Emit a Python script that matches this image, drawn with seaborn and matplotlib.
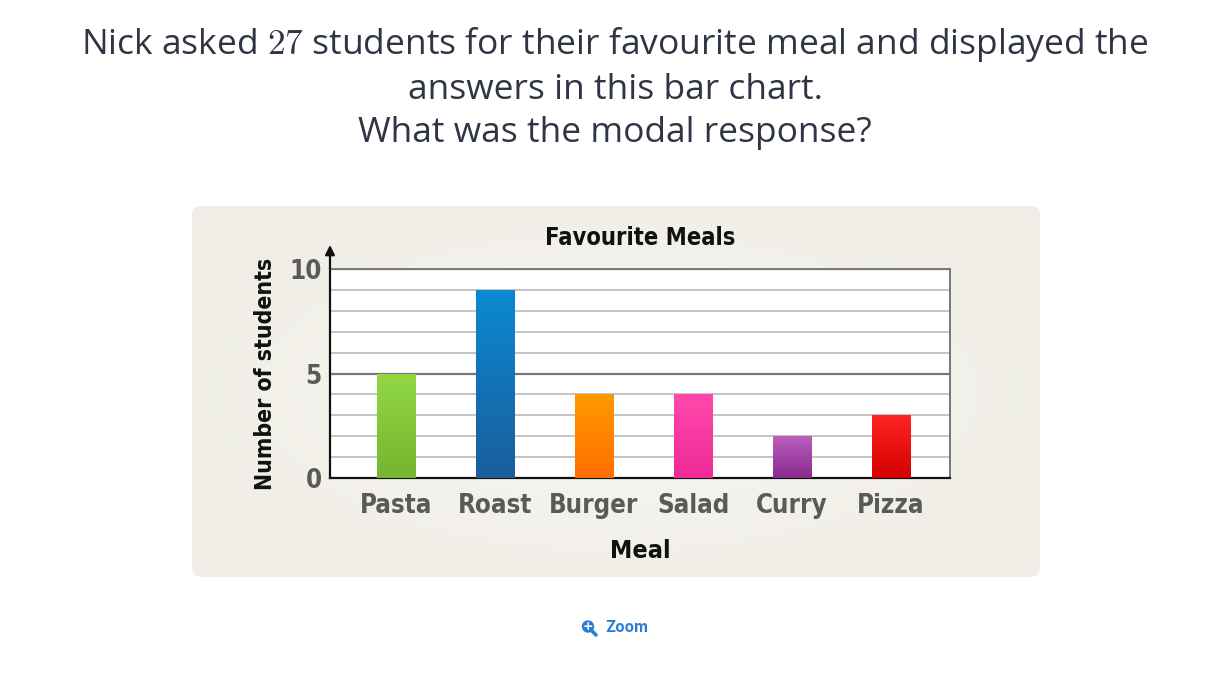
import numpy as np
import pandas as pd
import matplotlib
matplotlib.use("Agg")
import matplotlib.pyplot as plt
import seaborn as sns
from matplotlib.patches import FancyBboxPatch, Circle
from matplotlib.colors import LinearSegmentedColormap

# ---- data ----
meals = ["Pasta", "Roast", "Burger", "Salad", "Curry", "Pizza"]
students = [5, 9, 4, 4, 2, 3]
top_colors = ["#93d843", "#0a8ad2", "#ff9a00", "#ff48ac", "#bb5ebd", "#ff2424"]
bottom_colors = ["#74b531", "#1c5c9c", "#ff6e00", "#ee2a98", "#8a2a8e", "#d40000"]
y_ticks = [0, 5, 10]

sns.set_theme(style="white")
plt.rcParams["mathtext.fontset"] = "cm"
cond = ["DejaVu Sans"]
cstretch = "condensed"

W, H = 1230, 673
fig = plt.figure(figsize=(W / 100, H / 100), dpi=100)
fig.patch.set_facecolor("white")

def fx(px):
    return px / W

def fy(py):
    return 1 - py / H

# ---- background panel ----
bg = fig.add_axes([0, 0, 1, 1], zorder=0)
bg.set_xlim(0, W)
bg.set_ylim(H, 0)
bg.axis("off")
px0, py0, px1, py1 = 192, 206, 1040, 577
yy, xx = np.mgrid[py0:py1, px0:px1]
cx, cy = (px0 + px1) / 2, (py0 + py1) / 2
r = np.sqrt(((xx - cx) / ((px1 - px0) / 2)) ** 2 + ((yy - cy) / ((py1 - py0) / 2)) ** 2)
r = np.clip(r / 1.2, 0, 1)
cmap_bg = LinearSegmentedColormap.from_list("bg", ["#f8f7f3", "#efede5"])
im = bg.imshow(r, cmap=cmap_bg, extent=(px0, px1, py1, py0), aspect="auto", vmin=0, vmax=1)
panel = FancyBboxPatch((px0, py0), px1 - px0, py1 - py0,
                       boxstyle="round,pad=0,rounding_size=10",
                       facecolor="none", edgecolor="none")
bg.add_patch(panel)
im.set_clip_path(panel)

# ---- question text ----
qcolor = "#2f3545"
qfont = ["Open Sans", "DejaVu Sans"]
qkw = dict(ha="center", va="center", fontsize=25.5, color=qcolor, family=qfont)
fig.text(0.5, fy(44), "Nick asked $27$ students for their favourite meal and displayed the", **qkw)
fig.text(0.5, fy(90), "answers in this bar chart.", **qkw)
fig.text(0.5, fy(133), "What was the modal response?", **qkw)

# ---- chart ----
ax = fig.add_axes([fx(330), fy(478), fx(950) - fx(330), fy(269) - fy(478)], zorder=2)
df = pd.DataFrame({"Meal": meals, "Students": students})
sns.barplot(data=df, x="Meal", y="Students", order=meals, width=0.39,
            color="#888888", saturation=1, ax=ax, zorder=3)

ax.set_facecolor("white")

# gradients on bars
for patch, ctop, cbot in zip(ax.patches, top_colors, bottom_colors):
    x0, y0 = patch.get_x(), patch.get_y()
    w, h = patch.get_width(), patch.get_height()
    cm = LinearSegmentedColormap.from_list("g", [cbot, ctop])
    grad = np.linspace(0, 1, 100).reshape(-1, 1)
    gim = ax.imshow(grad, cmap=cm, extent=(x0, x0 + w, y0, y0 + h), origin="lower",
                    aspect="auto", zorder=4)
    gim.set_clip_path(patch)
    patch.set_edgecolor("none")
ax.set_aspect("auto")
ax.set_xlim(-0.667, 5.596)
ax.set_ylim(0, 10)

# grid lines
for v in range(1, 11):
    if v % 5 == 0:
        ax.axhline(v, color="#777777", lw=1.6, zorder=1)
    else:
        ax.axhline(v, color="#c4c4c4", lw=1.4, zorder=1)

for s in ["top", "right"]:
    ax.spines[s].set_color("#777777")
    ax.spines[s].set_linewidth(1.4)
for s in ["left", "bottom"]:
    ax.spines[s].set_color("#111111")
    ax.spines[s].set_linewidth(1.6)

ax.set_yticks(y_ticks)
ax.set_yticklabels([str(t) for t in y_ticks], family=cond, stretch=cstretch, fontsize=18.5,
                   fontweight="bold", color="#5a5a5a")
ax.set_xticks(range(len(meals)))
ax.set_xticklabels(meals, family=cond, stretch=cstretch, fontsize=18.5, fontweight="bold",
                   color="#5a5a5a")
ax.tick_params(axis="y", length=0, pad=6)
ax.tick_params(axis="x", length=0, pad=11)

ax.set_xlabel("Meal", family=cond, stretch=cstretch, fontsize=18, fontweight="bold",
              color="#111111", labelpad=14)
ax.set_ylabel("Number of students", family=cond, stretch=cstretch, fontsize=16.5,
              fontweight="bold", color="#111111", labelpad=9)
ax.set_title("Favourite Meals", family=cond, stretch=cstretch, fontsize=17, fontweight="bold",
             color="#111111", pad=17)

# arrow on y axis
ax.annotate("", xy=(0, 1.115), xytext=(0, 1.0), xycoords="axes fraction",
            arrowprops=dict(arrowstyle="-|>", color="#111111", lw=1.6,
                            mutation_scale=14, shrinkA=0, shrinkB=0),
            annotation_clip=False)

# ---- zoom link ----
blue = "#2b7bd8"
bg.plot([592, 596], [631, 635], color=blue, lw=2.6, solid_capstyle="round", zorder=3)
bg.add_patch(Circle((588, 626.5), 6.2, facecolor=blue, edgecolor="none", zorder=3))
bg.text(588, 626.5, "+", ha="center", va="center", fontsize=9, color="white",
        fontweight="bold", zorder=4, family=["DejaVu Sans"])
fig.text(fx(605), fy(628), "Zoom", ha="left", va="center", fontsize=11,
         color=blue, family=["Inter", "DejaVu Sans"], fontweight="bold")

fig.savefig("out.png", dpi=100, facecolor="white")
